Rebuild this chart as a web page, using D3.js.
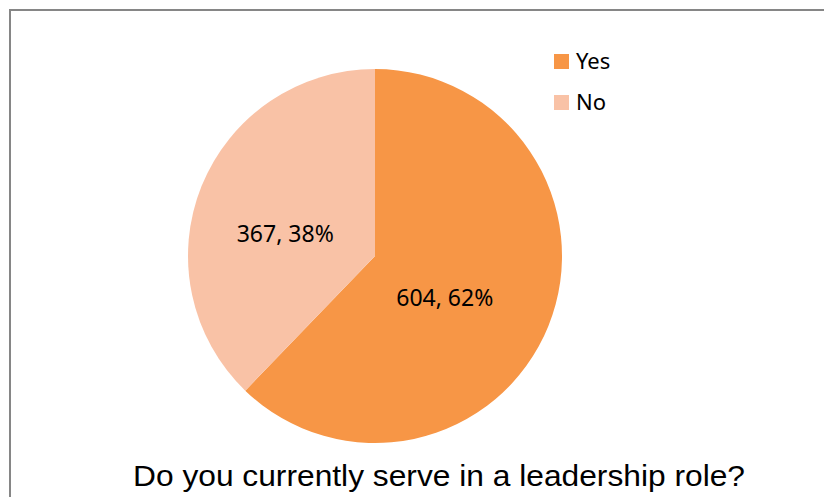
<!DOCTYPE html>
<html>
<head>
<meta charset="utf-8">
<script src="https://cdn.jsdelivr.net/npm/d3@7"></script>
<style>
	body { margin: 0; background: #fff; }
	svg { display: block; }
</style>
</head>
<body>
<div id="chart"></div>
<script>
const categories = ["Yes", "No"];
const counts = [604, 367];
const percents = ["62%", "38%"];
const colors = ["#F79646", "#F9C2A6"];
const title = "Do you currently serve in a leadership role?";

const width = 824;
const height = 497;
const cx = 375, cy = 256, radius = 187;

const svg = d3.select("#chart").append("svg")
	.attr("width", width)
	.attr("height", height);

// chart frame
svg.append("rect")
	.attr("x", 10)
	.attr("y", 10)
	.attr("width", width + 10)
	.attr("height", height + 10)
	.attr("fill", "#fff")
	.attr("stroke", "#868686")
	.attr("stroke-width", 2);

const data = categories.map((c, i) => ({name: c, value: counts[i], pct: percents[i], color: colors[i]}));

const pie = d3.pie()
	.sort(null)
	.value(d => d.value);

const arc = d3.arc()
	.innerRadius(0)
	.outerRadius(radius);

const labelArc = d3.arc()
	.innerRadius(radius * 0.46)
	.outerRadius(radius * 0.46);

const g = svg.append("g")
	.attr("transform", "translate(" + cx + "," + cy + ")");

const slices = g.selectAll(".slice")
	.data(pie(data))
	.enter().append("g")
	.attr("class", "slice");

slices.append("path")
	.attr("d", arc)
	.attr("fill", d => d.data.color);

slices.append("text")
	.attr("transform", d => {
		const c = labelArc.centroid(d);
		return "translate(" + (c[0] - 10) + "," + (c[1] + 10) + ")";
	})
	.attr("text-anchor", "middle")
	.attr("dy", "0.35em")
	.attr("font-family", "'Noto Sans', sans-serif")
	.attr("font-size", "23px")
	.attr("fill", "#000")
	.text(d => d.data.value + ", " + d.data.pct);

// legend
const legend = svg.append("g")
	.attr("transform", "translate(554,54)");

const items = legend.selectAll(".item")
	.data(data)
	.enter().append("g")
	.attr("class", "item")
	.attr("transform", (d, i) => "translate(0," + (i * 41) + ")");

items.append("rect")
	.attr("width", 15)
	.attr("height", 15)
	.attr("fill", d => d.color);

items.append("text")
	.attr("x", 22)
	.attr("y", 7.5)
	.attr("dy", "0.35em")
	.attr("font-family", "'Noto Sans', sans-serif")
	.attr("font-size", "22px")
	.attr("fill", "#000")
	.text(d => d.name);

svg.append("text")
	.attr("x", 439)
	.attr("y", 486)
	.attr("text-anchor", "middle")
	.attr("font-family", "'Liberation Sans', Arial, sans-serif")
	.attr("font-size", "30px")
	.attr("textLength", 612)
	.attr("lengthAdjust", "spacingAndGlyphs")
	.attr("fill", "#000")
	.text(title);
</script>
</body>
</html>
